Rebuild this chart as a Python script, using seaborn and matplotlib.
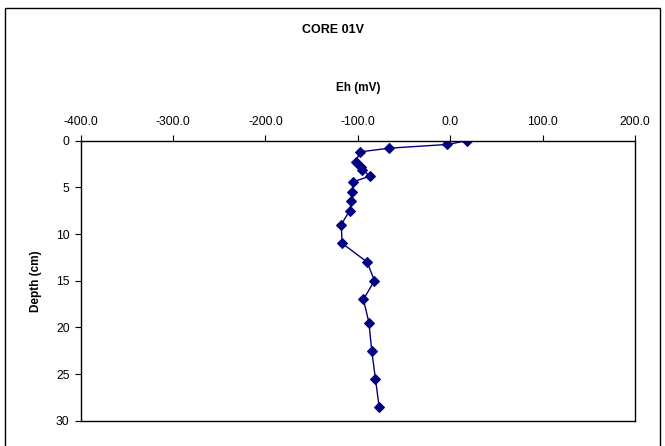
import matplotlib
matplotlib.use("Agg")
import matplotlib.pyplot as plt
import seaborn as sns
import pandas as pd
from matplotlib.patches import Rectangle

# Redox potential profile of core 01V
depth_cm = [0.0, 0.4, 0.8, 1.2, 2.3, 2.8, 3.1, 3.8, 4.4, 5.5, 6.5, 7.5,
            9.0, 11.0, 13.0, 15.0, 17.0, 19.5, 22.5, 25.5, 28.5]
eh_mv = [18.0, -3.0, -66.0, -98.0, -102.0, -97.0, -95.0, -87.0, -105.0,
         -106.0, -107.0, -109.0, -118.0, -117.0, -90.0, -82.0, -94.0,
         -88.0, -85.0, -81.0, -77.0]
x_ticks = [-400, -300, -200, -100, 0, 100, 200]
y_ticks = [0, 5, 10, 15, 20, 25, 30]

df = pd.DataFrame({"Eh (mV)": eh_mv, "Depth (cm)": depth_cm})

sns.set_style("white")
plt.rcParams["font.family"] = ["Liberation Sans", "DejaVu Sans"]
plt.rcParams["text.color"] = "black"
plt.rcParams["axes.labelcolor"] = "black"

fig = plt.figure(figsize=(6.65, 4.46), dpi=100)
ax = fig.add_axes([0.1214, 0.0567, 0.8335, 0.6278])

sns.lineplot(data=df, x="Eh (mV)", y="Depth (cm)", sort=False, estimator=None,
             color="#000080", marker="D", markersize=5.5, markeredgecolor="#000080",
             linewidth=1.0, ax=ax)

ax.set_xlim(-400, 200)
ax.set_ylim(30, 0)
ax.set_xticks(x_ticks)
ax.set_yticks(y_ticks)
ax.set_xticklabels([f"{v:.1f}" for v in x_ticks])
ax.set_yticklabels([str(v) for v in y_ticks])
ax.xaxis.tick_top()
ax.xaxis.set_label_position("top")
ax.tick_params(axis="x", direction="out", length=4, width=0.8, labelsize=8.7, pad=5,
               colors="black", labelcolor="black")
ax.tick_params(axis="y", direction="out", length=4, width=0.8, labelsize=8.7, pad=4,
               colors="black", labelcolor="black")
ax.tick_params(axis="x", which="both", top=True, bottom=False)
ax.tick_params(axis="y", which="both", left=True, right=False)
for s in ax.spines.values():
    s.set_visible(True)
    s.set_color("black")
    s.set_linewidth(1.0)

ax.set_xlabel("Eh (mV)", fontsize=8.5, fontweight="bold", labelpad=18, color="black")
ax.set_ylabel("Depth (cm)", fontsize=8.5, fontweight="bold", labelpad=10, color="black")

fig.text(0.5, 1 - 30 / 446, "CORE 01V", ha="center", va="center",
         fontsize=9, fontweight="bold", color="black")

# outer chart border
fig.patches.append(Rectangle((5 / 665, -0.02), 655 / 665, 1 - 8 / 446 + 0.02,
                             transform=fig.transFigure, fill=False,
                             edgecolor="black", linewidth=1.0))

fig.savefig("out.png", dpi=100)
